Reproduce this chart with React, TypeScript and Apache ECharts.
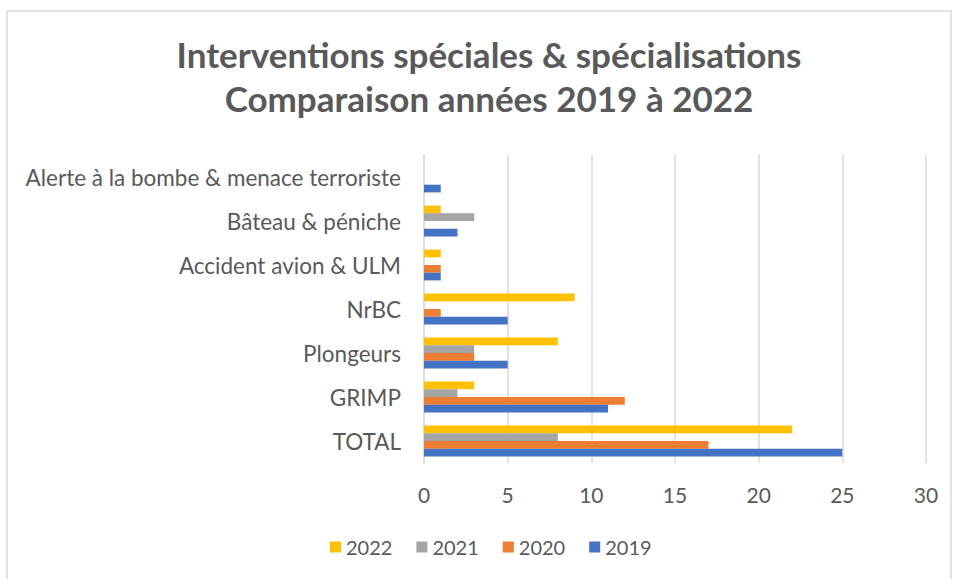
import React, { useEffect, useRef } from "react";
import * as echarts from "echarts";

const categories = [
  "Alerte à la bombe & menace terroriste",
  "Bâteau & péniche",
  "Accident avion & ULM",
  "NrBC",
  "Plongeurs",
  "GRIMP",
  "TOTAL",
];
const seriesNames = ["2022", "2021", "2020", "2019"];
const values2022 = [0, 1, 1, 9, 8, 3, 22];
const values2021 = [0, 3, 0, 0, 3, 2, 8];
const values2020 = [0, 0, 1, 1, 3, 12, 17];
const values2019 = [1, 2, 1, 5, 5, 11, 25];
const colors = ["#FFC000", "#A5A5A5", "#ED7D31", "#4472C4"];
const titleLines = ["Interventions spéciales & spécialisations", "Comparaison années 2019 à 2022"];

const FONT = "Lato, 'Liberation Sans', sans-serif";
const TXT = "#595959";

export default function App() {
  const ref = useRef<HTMLDivElement>(null);
  useEffect(() => {
    if (!ref.current) return;
    const chart = echarts.init(ref.current, null, { renderer: "svg" });
    const data = [values2022, values2021, values2020, values2019];
    chart.setOption({
      animation: false,
      backgroundColor: "#ffffff",
      graphic: [
        {
          type: "rect",
          shape: { x: 7, y: 11, width: 944, height: 600 },
          style: { fill: "none", stroke: "#d9d9d9", lineWidth: 1.5 },
          silent: true,
        },
      ],
      title: {
        text: titleLines.join("\n"),
        left: 484,
        textAlign: "center",
        top: 27,
        textStyle: {
          fontFamily: FONT,
          fontSize: 35,
          fontWeight: "bold",
          color: TXT,
          lineHeight: 44,
        },
      },
      legend: {
        data: seriesNames,
        left: 325,
        top: 532,
        itemWidth: 11,
        itemHeight: 11,
        itemGap: 24,
        icon: "rect",
        textStyle: { fontFamily: FONT, fontSize: 20, color: TXT },
      },
      grid: { left: 424, right: 29, top: 155, bottom: 116, containLabel: false },
      xAxis: {
        type: "value",
        min: 0,
        max: 30,
        interval: 5,
        axisLine: { show: false },
        axisTick: { show: false },
        splitLine: { lineStyle: { color: "#d9d9d9", width: 1.5 } },
        axisLabel: { fontFamily: FONT, fontSize: 21, color: TXT, margin: 21 },
      },
      yAxis: {
        type: "category",
        inverse: true,
        data: categories,
        axisLine: { show: true, lineStyle: { color: "#d9d9d9", width: 1.5 } },
        axisTick: { show: false },
        axisLabel: { fontFamily: FONT, fontSize: 22.5, color: TXT, margin: 23 },
      },
      series: seriesNames.map((name, i) => ({
        name,
        type: "bar",
        data: data[i],
        barGap: "0%",
        barCategoryGap: "30%",
        itemStyle: { color: colors[i] },
      })),
    });
    return () => chart.dispose();
  }, []);
  return (
    <div
      ref={ref}
      style={{ position: "fixed", left: 0, top: 0, width: 955, height: 579 }}
    />
  );
}
